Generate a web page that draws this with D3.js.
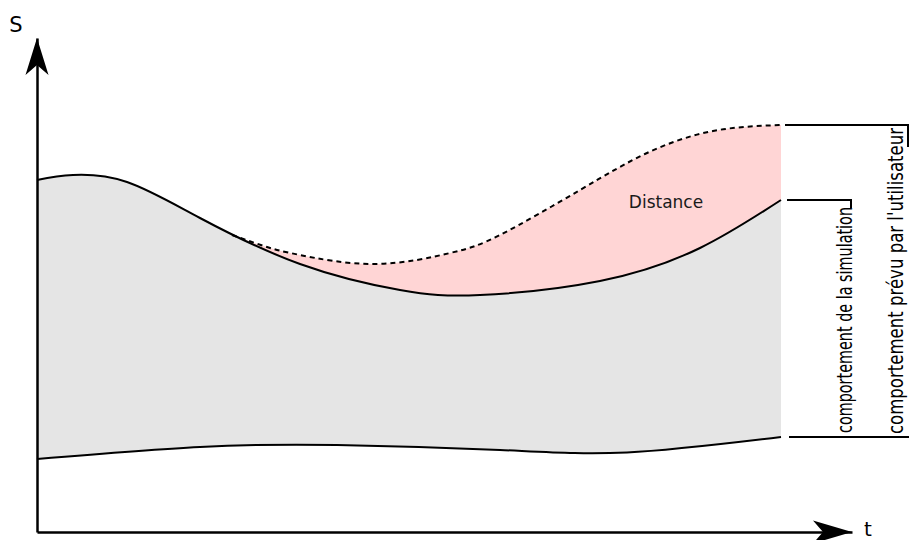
<!DOCTYPE html>
<html>
<head>
<meta charset="utf-8">
<script src="https://cdn.jsdelivr.net/npm/d3@7"></script>
<style>
  html, body { margin: 0; padding: 0; background: #fff; }
  svg { display: block; }
</style>
</head>
<body>
<svg id="chart" width="911" height="540"></svg>
<script>
// ---- data (abstract units: t along x, s along y) ----
const tUpper = [0, 36, 90, 163, 263, 363, 443, 563, 663, 744];
const sUpper = [352, 357, 350, 314, 268, 242, 237, 251, 284, 332];

const tDashed = [195, 230, 263, 338, 413, 463, 543, 610, 676, 744];
const sDashed = [297, 285, 277, 268, 279, 297, 342, 379, 401, 407];

const tLower = [0, 163, 300, 463, 590, 744];
const sLower = [73, 85, 87, 82, 79.5, 95];

const axisLabels = ["S", "t"];
const distanceLabel = "Distance";
const bracketLabels = ["comportement de la simulation", "comportement prévu par l'utilisateur"];

// ---- scales ----
const tMax = 815, sMax = 494;
const x = d3.scaleLinear().domain([0, tMax]).range([37, 852]);
const y = d3.scaleLinear().domain([0, sMax]).range([532, 38]);

const upper = tUpper.map((t, i) => [t, sUpper[i]]);
const dashed = tDashed.map((t, i) => [t, sDashed[i]]);
const lower = tLower.map((t, i) => [t, sLower[i]]);

const svg = d3.select("#chart");
const curve = d3.curveNatural;

const line = d3.line().x(d => x(d[0])).y(d => y(d[1])).curve(curve);

// clip: region above the upper curve
const defs = svg.append("defs");
defs.append("clipPath").attr("id", "aboveUpper")
  .append("path")
  .attr("d", d3.area().x(d => x(d[0])).y0(y(sMax)).y1(d => y(d[1])).curve(curve)(upper));

// pink distance area (dashed down to axis, clipped above upper curve)
svg.append("path")
  .attr("d", d3.area().x(d => x(d[0])).y0(y(0)).y1(d => y(d[1])).curve(curve)(dashed))
  .attr("fill", "#ffd5d5")
  .attr("clip-path", "url(#aboveUpper)");

// gray band between lower and upper
const upperPath = line(upper);
const lowerRev = line(lower.slice().reverse());
svg.append("path")
  .attr("d", upperPath + "L" + lowerRev.slice(1) + "Z")
  .attr("fill", "#e5e5e5")
  .attr("stroke", "none");

// curves
svg.append("path").attr("d", line(upper)).attr("fill", "none")
  .attr("stroke", "#000").attr("stroke-width", 2);
svg.append("path").attr("d", line(lower)).attr("fill", "none")
  .attr("stroke", "#000").attr("stroke-width", 2);
svg.append("path").attr("d", line(dashed)).attr("fill", "none")
  .attr("stroke", "#000").attr("stroke-width", 2).attr("stroke-dasharray", "5,4");

// axes (no ticks)
svg.append("g").attr("transform", `translate(0,${y(0)})`)
  .call(d3.axisBottom(x).ticks(0).tickSizeOuter(0))
  .call(g => g.select(".domain").attr("stroke", "#000").attr("stroke-width", 2.5));
svg.append("g").attr("transform", `translate(${x(0)},0)`)
  .call(d3.axisLeft(y).ticks(0).tickSizeOuter(0))
  .call(g => g.select(".domain").attr("stroke", "#000").attr("stroke-width", 2.5));

// arrowheads
const yTip = [x(0), y(sMax)];
svg.append("path")
  .attr("d", `M${yTip[0]},${yTip[1]} L${yTip[0] + 11.5},${yTip[1] + 37} L${yTip[0]},${yTip[1] + 27} L${yTip[0] - 11.5},${yTip[1] + 37} Z`)
  .attr("fill", "#000");
const xTip = [x(tMax), y(0)];
svg.append("path")
  .attr("d", `M${xTip[0]},${xTip[1]} L${xTip[0] - 39},${xTip[1] + 11.5} L${xTip[0] - 29},${xTip[1]} L${xTip[0] - 39},${xTip[1] - 11.5} Z`)
  .attr("fill", "#000");

// axis labels
svg.append("text").attr("x", 16).attr("y", 32).attr("text-anchor", "middle")
  .attr("font-family", "DejaVu Sans").attr("font-size", 21).attr("fill", "#000")
  .text(axisLabels[0]);
svg.append("text").attr("x", 868).attr("y", 536).attr("text-anchor", "middle")
  .attr("font-family", "DejaVu Sans").attr("font-size", 20).attr("fill", "#000")
  .text(axisLabels[1]);

// distance label
svg.append("text").attr("x", 666).attr("y", 208).attr("text-anchor", "middle")
  .attr("font-family", "DejaVu Sans").attr("font-size", 17).attr("fill", "#1a1a1a")
  .text(distanceLabel);

// brackets
const yTop = y(sDashed[sDashed.length - 1]);
const yMid = y(sUpper[sUpper.length - 1]);
const yBot = y(sLower[sLower.length - 1]);
const br = svg.append("g").attr("stroke", "#000").attr("stroke-width", 2).attr("fill", "none");
br.append("line").attr("x1", 785).attr("x2", 909).attr("y1", yTop).attr("y2", yTop);
br.append("line").attr("x1", 787).attr("x2", 852).attr("y1", yMid).attr("y2", yMid);
br.append("line").attr("x1", 789).attr("x2", 909).attr("y1", yBot).attr("y2", yBot);
br.append("line").attr("x1", 908).attr("x2", 908).attr("y1", yTop).attr("y2", yTop + 22);
br.append("line").attr("x1", 851).attr("x2", 851).attr("y1", yMid).attr("y2", yMid + 8);

const fontNarrow = "'Liberation Sans Narrow', 'DejaVu Sans Condensed', 'DejaVu Sans', sans-serif";
svg.append("text")
  .attr("transform", `translate(852,433) rotate(-90)`)
  .attr("font-family", fontNarrow).attr("font-size", 22).attr("fill", "#000")
  .attr("font-stretch", "condensed")
  .attr("textLength", 226).attr("lengthAdjust", "spacingAndGlyphs")
  .text(bracketLabels[0]);
svg.append("text")
  .attr("transform", `translate(903,434) rotate(-90)`)
  .attr("font-family", fontNarrow).attr("font-size", 22).attr("fill", "#000")
  .attr("font-stretch", "condensed")
  .attr("textLength", 306).attr("lengthAdjust", "spacingAndGlyphs")
  .text(bracketLabels[1]);
</script>
</body>
</html>
